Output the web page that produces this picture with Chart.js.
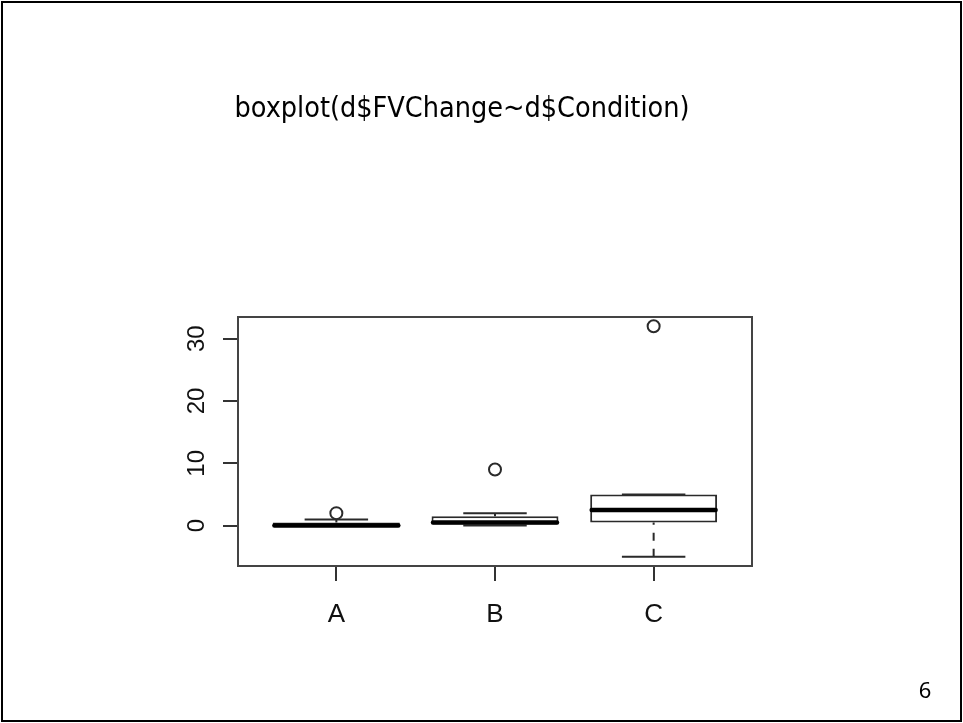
<!DOCTYPE html>
<html>
<head>
<meta charset="utf-8">
<script src="https://cdn.jsdelivr.net/npm/chart.js@4/dist/chart.umd.min.js"></script>
<style>
  body { margin: 0; background: #fff; }
  #page { position: relative; width: 963px; height: 723px; overflow: hidden; }
  #frame { position: absolute; left: 1px; top: 1px; width: 961px; height: 721px; border: 2px solid #000; box-sizing: border-box; }
  #title { position: absolute; left: 462px; top: 93px; transform: translateX(-50%); white-space: nowrap;
           font: 28.5px/29px "DejaVu Sans Condensed", "DejaVu Sans", sans-serif; color: #000; }
  #num { position: absolute; left: 925px; top: 678px; transform: translateX(-50%);
         font: 22px/22px "Noto Sans", sans-serif; color: #000; }
  canvas { position: absolute; left: 0; top: 0; }
</style>
</head>
<body>
<div id="page">
  <canvas id="boxChart" width="963" height="723"></canvas>
  <div id="frame"></div>
  <div id="title">boxplot(d$FVChange~d$Condition)</div>
  <div id="num">6</div>
</div>
<script>
// values
const categories = ['A', 'B', 'C'];
const positions = [1, 2, 3];
const whiskerLow = [0, 0, -5];
const q1 = [0, 0, 0.5];
const medians = [0, 0.5, 2.5];
const q3 = [0.5, 1.5, 5];
const whiskerHigh = [1, 2, 5];
const outliers = [[2], [9], [32]];
const yTicks = [0, 10, 20, 30];

const ink = '#2a2a2a';

// medians, whiskers and staples, drawn through the chart scales
const boxParts = {
    id: 'boxParts',
    afterDatasetsDraw(chart) {
        const { ctx, scales: { x, y } } = chart;
        const boxes = chart.getDatasetMeta(0).data;
        ctx.save();
        ctx.strokeStyle = ink;
        positions.forEach((p, i) => {
            const cx = x.getPixelForValue(p);
            const half = boxes[i].width / 2;
            const staple = half / 2;

            // dashed whiskers, drawn from the extreme towards the box
            ctx.lineWidth = 2;
            ctx.setLineDash([8, 8]);
            ctx.beginPath();
            ctx.moveTo(cx, y.getPixelForValue(whiskerHigh[i]));
            ctx.lineTo(cx, y.getPixelForValue(q3[i]));
            ctx.moveTo(cx, y.getPixelForValue(whiskerLow[i]));
            ctx.lineTo(cx, y.getPixelForValue(q1[i]));
            ctx.stroke();
            ctx.setLineDash([]);

            // staples
            ctx.beginPath();
            [whiskerLow[i], whiskerHigh[i]].forEach(v => {
                const py = y.getPixelForValue(v);
                ctx.moveTo(cx - staple, py);
                ctx.lineTo(cx + staple, py);
            });
            ctx.stroke();

            // median
            ctx.strokeStyle = '#000';
            ctx.lineWidth = 4.5;
            ctx.lineCap = 'round';
            ctx.beginPath();
            const my = y.getPixelForValue(medians[i]);
            ctx.moveTo(cx - half + 1.5, my);
            ctx.lineTo(cx + half - 1.5, my);
            ctx.stroke();
            ctx.lineCap = 'butt';
            ctx.strokeStyle = ink;
        });
        ctx.restore();
    },
    afterDraw(chart) {
        const { ctx, chartArea: a } = chart;
        ctx.save();
        ctx.strokeStyle = '#444';
        ctx.lineWidth = 2;
        ctx.strokeRect(a.left, a.top, a.right - a.left, a.bottom - a.top);
        ctx.restore();
    }
};

const ctx = document.getElementById('boxChart').getContext('2d');

new Chart(ctx, {
    type: 'bar',
    data: {
        datasets: [{
            data: positions.map((p, i) => ({ x: p, y: [q1[i], q3[i]] })),
            backgroundColor: '#fff',
            borderColor: ink,
            borderWidth: 2,
            borderSkipped: false,
            barPercentage: 0.8,
            categoryPercentage: 1
        }, {
            type: 'scatter',
            data: outliers.flatMap((vals, i) => vals.map(v => ({ x: positions[i], y: v }))),
            pointStyle: 'circle',
            pointRadius: 6,
            borderColor: ink,
            backgroundColor: '#fff',
            borderWidth: 2
        }]
    },
    plugins: [boxParts],
    options: {
        responsive: false,
        devicePixelRatio: 1,
        animation: false,
        layout: { padding: { left: 178, top: 317, right: 211, bottom: 97 } },
        scales: {
            x: {
                type: 'linear',
                min: 0.38,
                max: 3.62,
                offset: false,
                afterBuildTicks: s => { s.ticks = positions.map(v => ({ value: v })); },
                afterFit: s => { s.height = 60; },
                border: { display: false },
                grid: { offset: false, drawOnChartArea: false, tickLength: 15, color: '#333', lineWidth: 2 },
                ticks: {
                    autoSkip: false,
                    padding: 18,
                    color: '#111',
                    font: { family: 'Liberation Sans', size: 26 },
                    callback: v => categories[positions.indexOf(v)]
                }
            },
            y: {
                min: -6.48,
                max: 33.48,
                afterBuildTicks: s => { s.ticks = yTicks.map(v => ({ value: v })); },
                afterFit: s => { s.width = 60; },
                border: { display: false },
                grid: { drawOnChartArea: false, tickLength: 15, color: '#333', lineWidth: 2 },
                ticks: {
                    autoSkip: false,
                    minRotation: 90,
                    maxRotation: 90,
                    crossAlign: 'center',
                    padding: 12,
                    color: '#111',
                    font: { family: 'Liberation Sans', size: 24 }
                }
            }
        },
        plugins: {
            legend: { display: false },
            tooltip: { enabled: false }
        }
    }
});
</script>
</body>
</html>
